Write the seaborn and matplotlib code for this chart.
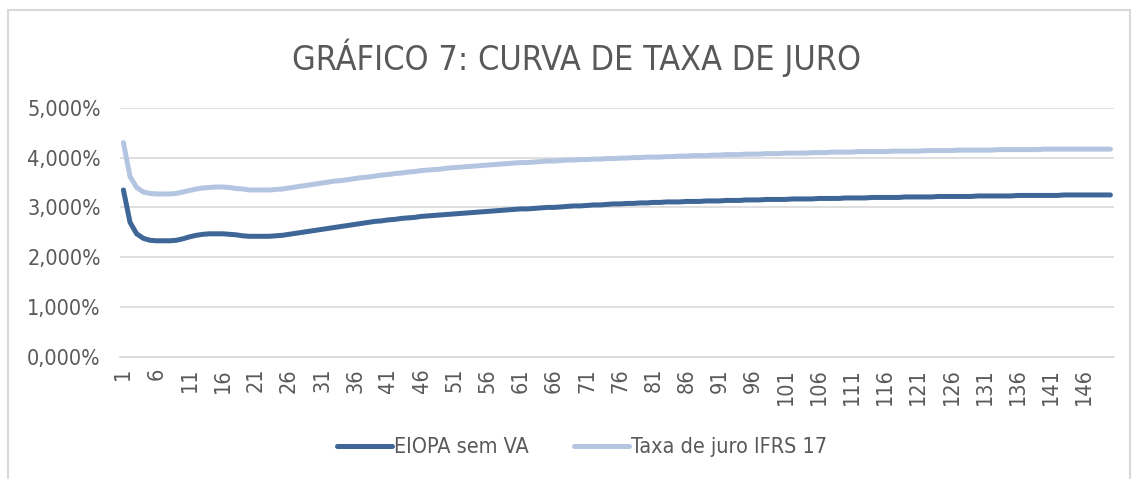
import numpy as np
import pandas as pd
import matplotlib
matplotlib.use("Agg")
import matplotlib.pyplot as plt
import seaborn as sns
from matplotlib.ticker import FuncFormatter
from matplotlib.patches import Rectangle

# periods 1..150 (years)
periods = list(range(1, 151))

# EIOPA risk-free curve without volatility adjustment (%)
eiopa_sem_va = [
    3.35, 2.70, 2.47, 2.38, 2.34, 2.33, 2.33, 2.33, 2.34, 2.37,
    2.41, 2.44, 2.46, 2.47, 2.47, 2.47, 2.46, 2.45, 2.43, 2.42,
    2.42, 2.42, 2.42, 2.43, 2.44, 2.46, 2.48, 2.50, 2.52, 2.54,
    2.56, 2.58, 2.60, 2.62, 2.64, 2.66, 2.68, 2.70, 2.72, 2.73,
    2.75, 2.76, 2.78, 2.79, 2.80, 2.82, 2.83, 2.84, 2.85, 2.86,
    2.87, 2.88, 2.89, 2.90, 2.91, 2.92, 2.93, 2.94, 2.95, 2.96,
    2.97, 2.97, 2.98, 2.99, 3.00, 3.00, 3.01, 3.02, 3.03, 3.03,
    3.04, 3.05, 3.05, 3.06, 3.07, 3.07, 3.08, 3.08, 3.09, 3.09,
    3.10, 3.10, 3.11, 3.11, 3.11, 3.12, 3.12, 3.12, 3.13, 3.13,
    3.13, 3.14, 3.14, 3.14, 3.15, 3.15, 3.15, 3.16, 3.16, 3.16,
    3.16, 3.17, 3.17, 3.17, 3.17, 3.18, 3.18, 3.18, 3.18, 3.19,
    3.19, 3.19, 3.19, 3.20, 3.20, 3.20, 3.20, 3.20, 3.21, 3.21,
    3.21, 3.21, 3.21, 3.22, 3.22, 3.22, 3.22, 3.22, 3.22, 3.23,
    3.23, 3.23, 3.23, 3.23, 3.23, 3.24, 3.24, 3.24, 3.24, 3.24,
    3.24, 3.24, 3.25, 3.25, 3.25, 3.25, 3.25, 3.25, 3.25, 3.25,
]

# IFRS 17 discount curve (%)
taxa_ifrs17 = [
    4.30, 3.62, 3.40, 3.31, 3.28, 3.27, 3.27, 3.27, 3.28, 3.31,
    3.34, 3.37, 3.39, 3.40, 3.41, 3.41, 3.40, 3.38, 3.37, 3.35,
    3.35, 3.35, 3.35, 3.36, 3.37, 3.39, 3.41, 3.43, 3.45, 3.47,
    3.49, 3.51, 3.53, 3.54, 3.56, 3.58, 3.60, 3.61, 3.63, 3.65,
    3.66, 3.68, 3.69, 3.71, 3.72, 3.74, 3.75, 3.76, 3.77, 3.79,
    3.80, 3.81, 3.82, 3.83, 3.84, 3.85, 3.86, 3.87, 3.88, 3.89,
    3.90, 3.90, 3.91, 3.92, 3.93, 3.93, 3.94, 3.95, 3.95, 3.96,
    3.96, 3.97, 3.97, 3.98, 3.98, 3.99, 3.99, 4.00, 4.00, 4.01,
    4.01, 4.01, 4.02, 4.02, 4.03, 4.03, 4.04, 4.04, 4.04, 4.05,
    4.05, 4.06, 4.06, 4.06, 4.07, 4.07, 4.07, 4.08, 4.08, 4.08,
    4.09, 4.09, 4.09, 4.09, 4.10, 4.10, 4.10, 4.11, 4.11, 4.11,
    4.11, 4.12, 4.12, 4.12, 4.12, 4.12, 4.13, 4.13, 4.13, 4.13,
    4.13, 4.14, 4.14, 4.14, 4.14, 4.14, 4.15, 4.15, 4.15, 4.15,
    4.15, 4.15, 4.16, 4.16, 4.16, 4.16, 4.16, 4.16, 4.16, 4.17,
    4.17, 4.17, 4.17, 4.17, 4.17, 4.17, 4.17, 4.17, 4.17, 4.17,
]

series_names = ["EIOPA sem VA", "Taxa de juro IFRS 17"]
colors = ["#3E6697", "#B4C5E1"]
yticks = [0, 1, 2, 3, 4, 5]
xtick_labels = periods[::5]

df = pd.DataFrame({
    "periodo": periods * 2,
    "taxa": eiopa_sem_va + taxa_ifrs17,
    "serie": [series_names[0]] * len(periods) + [series_names[1]] * len(periods),
})

sns.set_style("white")
plt.rcParams["font.family"] = ["DejaVu Sans"]
plt.rcParams["font.stretch"] = "condensed"
txt = "#595959"

fig = plt.figure(figsize=(11.33, 4.79), dpi=100)
ax = fig.add_axes([0.106, 0.255, 0.877, 0.52])

sns.lineplot(data=df, x="periodo", y="taxa", hue="serie", palette=colors,
             linewidth=3.6, ax=ax, legend=True)

ax.set_ylim(0, 5)
ax.set_xlim(0.5, 150.5)
ax.set_yticks(yticks)
ax.yaxis.set_major_formatter(FuncFormatter(lambda v, p: f"{v:.3f}%".replace(".", ",")))
ax.set_xticks(xtick_labels)
ax.set_xticklabels([str(v) for v in xtick_labels], rotation=90)
ax.tick_params(axis="y", colors=txt, labelsize=15.5, length=0, pad=14)
ax.tick_params(axis="x", colors=txt, labelsize=15.5, length=0, pad=8)
ax.yaxis.grid(True, color="#D9D9D9", linewidth=1.2)
ax.set_axisbelow(True)
for s in ["top", "right", "left"]:
    ax.spines[s].set_visible(False)
ax.spines["bottom"].set_color("#D9D9D9")
ax.spines["bottom"].set_linewidth(1.2)
ax.set_xlabel("")
ax.set_ylabel("")

ax.legend(loc="center", bbox_to_anchor=(0.514, 0.066), bbox_transform=fig.transFigure,
          ncol=2, frameon=False, fontsize=15.5, handlelength=2.55, columnspacing=2.1,
          handletextpad=0.1, labelcolor=txt)

fig.text(0.509, 0.88, "GRÁFICO 7: CURVA DE TAXA DE JURO", ha="center", va="center",
         fontsize=24.5, color=txt)

fig.patches.append(Rectangle((8 / 1133, -0.1), 1122 / 1133, 1.1 - 10 / 479,
                             transform=fig.transFigure, fill=False,
                             edgecolor="#D9D9D9", linewidth=1.5))

fig.savefig("out.png", dpi=100)
